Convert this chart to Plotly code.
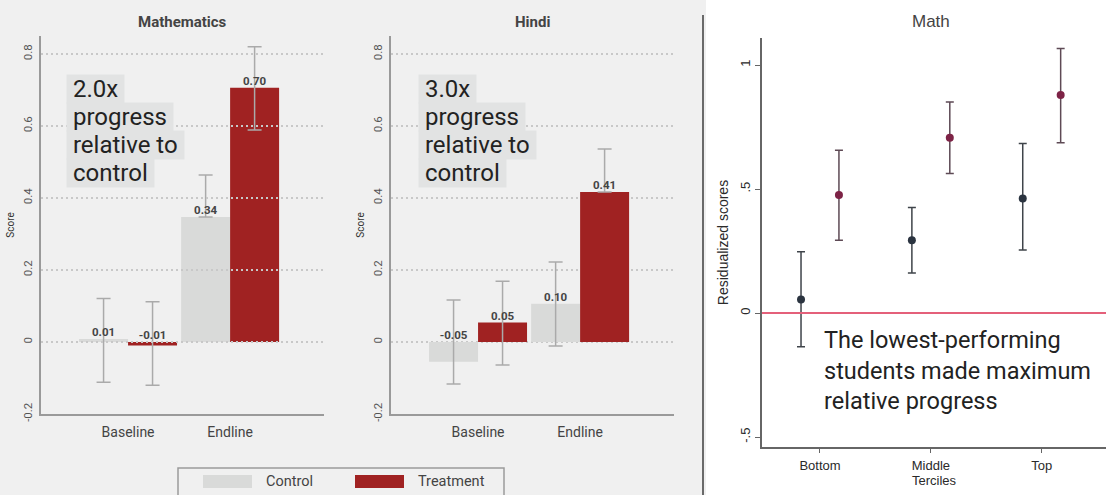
import plotly.graph_objects as go

W, H = 1106, 495
def px(x):
    return x / W
def py(y):
    return 1 - y / H

# ---------------- data ----------------
phases = ["Baseline", "Endline"]
series_names = ["Control", "Treatment"]

math_control = [0.008, 0.347]
math_control_lo = [-0.112, None]
math_control_hi = [0.121, 0.464]
math_control_labels = ["0.01", "0.34"]
math_treatment = [-0.010, 0.706]
math_treatment_lo = [-0.120, 0.589]
math_treatment_hi = [0.112, 0.820]
math_treatment_labels = ["-0.01", "0.70"]

hindi_control = [-0.055, 0.106]
hindi_control_lo = [-0.117, -0.011]
hindi_control_hi = [0.117, 0.222]
hindi_control_labels = ["-0.05", "0.10"]
hindi_treatment = [0.054, 0.417]
hindi_treatment_lo = [-0.064, None]
hindi_treatment_hi = [0.169, 0.536]
hindi_treatment_labels = ["0.05", "0.41"]

bar_ticks = [-0.2, 0, 0.2, 0.4, 0.6, 0.8]
bar_tick_labels = ["-0.2", "0", "0.2", "0.4", "0.6", "0.8"]

terciles = ["Bottom", "Middle", "Top"]
terc_control = [0.055, 0.294, 0.462]
terc_control_lo = [-0.136, 0.162, 0.254]
terc_control_hi = [0.247, 0.426, 0.684]
terc_treatment = [0.476, 0.707, 0.879]
terc_treatment_lo = [0.294, 0.563, 0.687]
terc_treatment_hi = [0.656, 0.851, 1.067]
terc_ticks = [-0.5, 0, 0.5, 1]
terc_tick_labels = ["-.5", "0", ".5", "1"]

# ---------------- style ----------------
COND = "Roboto, sans-serif"
ROBOTO = "Roboto, sans-serif"
ARIAL = "Liberation Sans, Arial, sans-serif"
CTRL_COLOR = "#d9dad9"
TREAT_COLOR = "#a02222"
ERR_COLOR = "#aaaaaa"
BAR_W = 0.48
GRID_COLOR = "#c8c8c8"

fig = go.Figure()
pos = list(range(len(phases)))

def add_bars(vals, lo, hi, labels, color, offset, xa, ya):
    plus = [h - v for v, h in zip(vals, hi)]
    minus = [0 if l is None else v - l for v, l in zip(vals, lo)]
    fig.add_trace(go.Bar(
        x=pos, y=vals, offset=offset, width=BAR_W, marker=dict(color=color, line=dict(width=0)),
        error_y=dict(type="data", symmetric=False, array=plus, arrayminus=minus,
                     color=ERR_COLOR, thickness=1.5, width=7),
        xaxis=xa, yaxis=ya, showlegend=False, hoverinfo="skip"))
    fig.add_trace(go.Scatter(
        x=[p + offset + BAR_W / 2 for p in pos], y=[max(v, 0) for v in vals],
        mode="text", text=labels, textposition="top center", marker=dict(size=1),
        textfont=dict(family=COND, size=11.5, color="#444444", weight="bold"),
        xaxis=xa, yaxis=ya, showlegend=False, hoverinfo="skip"))

add_bars(math_control, math_control_lo, math_control_hi, math_control_labels, CTRL_COLOR, -BAR_W, "x", "y")
add_bars(math_treatment, math_treatment_lo, math_treatment_hi, math_treatment_labels, TREAT_COLOR, 0, "x", "y")
add_bars(hindi_control, hindi_control_lo, hindi_control_hi, hindi_control_labels, CTRL_COLOR, -BAR_W, "x2", "y2")
add_bars(hindi_treatment, hindi_treatment_lo, hindi_treatment_hi, hindi_treatment_labels, TREAT_COLOR, 0, "x2", "y2")

# tercile panel
terc_x = [1, 2, 3]
def add_points(vals, lo, hi, color, errcolor, offset):
    fig.add_trace(go.Scatter(
        x=[t + offset for t in terc_x], y=vals, mode="markers",
        marker=dict(color=color, size=8),
        error_y=dict(type="data", symmetric=False,
                     array=[h - v for v, h in zip(vals, hi)],
                     arrayminus=[v - l for v, l in zip(vals, lo)],
                     color=errcolor, thickness=1.5, width=4),
        xaxis="x3", yaxis="y3", showlegend=False, hoverinfo="skip"))

add_points(terc_control, terc_control_lo, terc_control_hi, "#2b3440", "#3f444a", -0.171)
add_points(terc_treatment, terc_treatment_lo, terc_treatment_hi, "#7d2346", "#5e4a55", 0.171)

# ---------------- axes ----------------
bar_xaxis = dict(range=[-0.853, 1.92], tickvals=pos, ticktext=phases, showgrid=False, zeroline=False,
                 showline=True, linecolor="#9a9a9a", linewidth=1.5, ticks="", ticklabelstandoff=4,
                 automargin=False,
                 tickfont=dict(family=COND, size=14, color="#444444"), fixedrange=True)
bar_yaxis = dict(range=[-0.2, 0.85], tickvals=bar_ticks, ticktext=bar_tick_labels, showgrid=False,
                 zeroline=False, showline=True, linecolor="#9a9a9a", linewidth=1.5, ticks="",
                 automargin=False,
                 tickangle=-90, ticklabelstandoff=3, tickfont=dict(family=COND, size=11.5, color="#555555"),
                 title=dict(text="Score", font=dict(family=COND, size=10, color="#333333"), standoff=4))

fig.update_layout(
    width=W, height=H, autosize=False, margin=dict(l=0, r=0, t=0, b=0, autoexpand=False),
    paper_bgcolor="#f0f0f0", plot_bgcolor="rgba(0,0,0,0)",
    barmode="overlay", showlegend=False,
    xaxis=dict(domain=[px(41), px(324)], anchor="y", **bar_xaxis),
    yaxis=dict(domain=[py(414), py(36)], anchor="x", **bar_yaxis),
    xaxis2=dict(domain=[px(391), px(674)], anchor="y2", **bar_xaxis),
    yaxis2=dict(domain=[py(414), py(36)], anchor="x2", **bar_yaxis),
    xaxis3=dict(domain=[px(762), 1.0], anchor="y3", range=[0.477, 3.58], tickvals=terc_x,
                ticktext=terciles, showgrid=False, zeroline=False, showline=True, automargin=False,
                linecolor="#666666", linewidth=1.5, ticks="outside", ticklen=4, tickcolor="#666666",
                ticklabelstandoff=2,
                tickfont=dict(family=ARIAL, size=13, color="#2a2a2a"),
                title=dict(text="Terciles", font=dict(family=ARIAL, size=13, color="#2a2a2a"), standoff=0)),
    yaxis3=dict(domain=[py(447), py(38)], anchor="x3", range=[-0.54, 1.109], tickvals=terc_ticks,
                ticktext=terc_tick_labels, showgrid=False, zeroline=False, showline=True, automargin=False,
                linecolor="#666666", linewidth=1.5, ticks="outside", ticklen=5, tickcolor="#666666",
                tickangle=-90, tickfont=dict(family=ARIAL, size=13, color="#2a2a2a"),
                title=dict(text="Residualized scores", font=dict(family=ARIAL, size=14, color="#2a2a2a"), standoff=6)),
)

shapes = []
# white background for the right panel and divider line
shapes.append(dict(type="rect", xref="paper", yref="paper", x0=px(706), x1=1.0, y0=0, y1=1,
                   fillcolor="#ffffff", line=dict(width=0), layer="below"))
shapes.append(dict(type="line", xref="paper", yref="paper", x0=px(703), x1=px(703), y0=0, y1=py(15),
                   line=dict(color="#6a6a6a", width=2)))
# gridlines
for t in bar_ticks[1:]:
    shapes.append(dict(type="line", xref="x domain", yref="y", x0=0, x1=1, y0=t, y1=t,
                       line=dict(color=GRID_COLOR, width=2, dash="2px,3px"), layer="above"))
    shapes.append(dict(type="line", xref="x2 domain", yref="y2", x0=0, x1=1, y0=t, y1=t,
                       line=dict(color=GRID_COLOR, width=2, dash="2px,3px"), layer="below"))
# zero reference line in tercile panel
shapes.append(dict(type="line", xref="x3 domain", yref="y3", x0=0, x1=1, y0=0, y1=0,
                   line=dict(color="#e4607a", width=2)))
# legend box
shapes.append(dict(type="rect", xref="paper", yref="paper", x0=px(178), x1=px(504), y0=py(500), y1=py(468),
                   line=dict(color="#9a9a9a", width=1.5), fillcolor="rgba(0,0,0,0)"))
leg_x = [203, 355]
leg_colors = [CTRL_COLOR, TREAT_COLOR]
annotations = []
for name, c, lx in zip(series_names, leg_colors, leg_x):
    shapes.append(dict(type="rect", xref="paper", yref="paper", x0=px(lx), x1=px(lx + 49),
                       y0=py(488), y1=py(475), fillcolor=c, line=dict(width=0)))
    annotations.append(dict(xref="paper", yref="paper", x=px(lx + 61), y=py(481.5), xanchor="left",
                            yanchor="middle", text=name, showarrow=False,
                            font=dict(family=COND, size=14.5, color="#444444")))

# panel titles
annotations.append(dict(xref="x domain", yref="paper", x=0.5, y=py(22), yanchor="middle",
                        text="<b>Mathematics</b>",
                        showarrow=False, font=dict(family=COND, size=15, color="#444444")))
annotations.append(dict(xref="x2 domain", yref="paper", x=0.5, y=py(22), yanchor="middle",
                        text="<b>Hindi</b>",
                        showarrow=False, font=dict(family=COND, size=15, color="#444444")))
annotations.append(dict(xref="x3 domain", yref="paper", x=0.49, y=py(21), yanchor="middle",
                        text="Math",
                        showarrow=False, font=dict(family=ARIAL, size=17, color="#444444")))

# call-out boxes (drawn bottom line first so upper boxes never hide descenders)
def callout(lines, x):
    for i in reversed(range(len(lines))):
        annotations.append(dict(xref="paper", yref="paper", x=px(x), y=py(89 + 28 * i),
                                xanchor="left", yanchor="middle", text="\u00a0" + lines[i] + "\u00a0",
                                showarrow=False, bgcolor="#e2e3e3", borderpad=0,
                                font=dict(family=ROBOTO, size=24, color="#222222")))
callout(["2.0x", "progress", "relative to", "control"], 66)
callout(["3.0x", "progress", "relative to", "control"], 418)

annotations.append(dict(xref="paper", yref="paper", x=px(822), y=py(370), xanchor="left", yanchor="middle",
                        align="left", showarrow=False,
                        text="The lowest-performing<br>students made maximum<br>relative progress",
                        font=dict(family=ROBOTO, size=23.5, color="#222222")))

fig.update_layout(shapes=shapes, annotations=annotations)
fig.write_html("out.html", config={"displayModeBar": False},
               post_script="document.documentElement.style.margin='0';document.body.style.margin='0';"
                           "document.body.style.overflow='hidden';")
